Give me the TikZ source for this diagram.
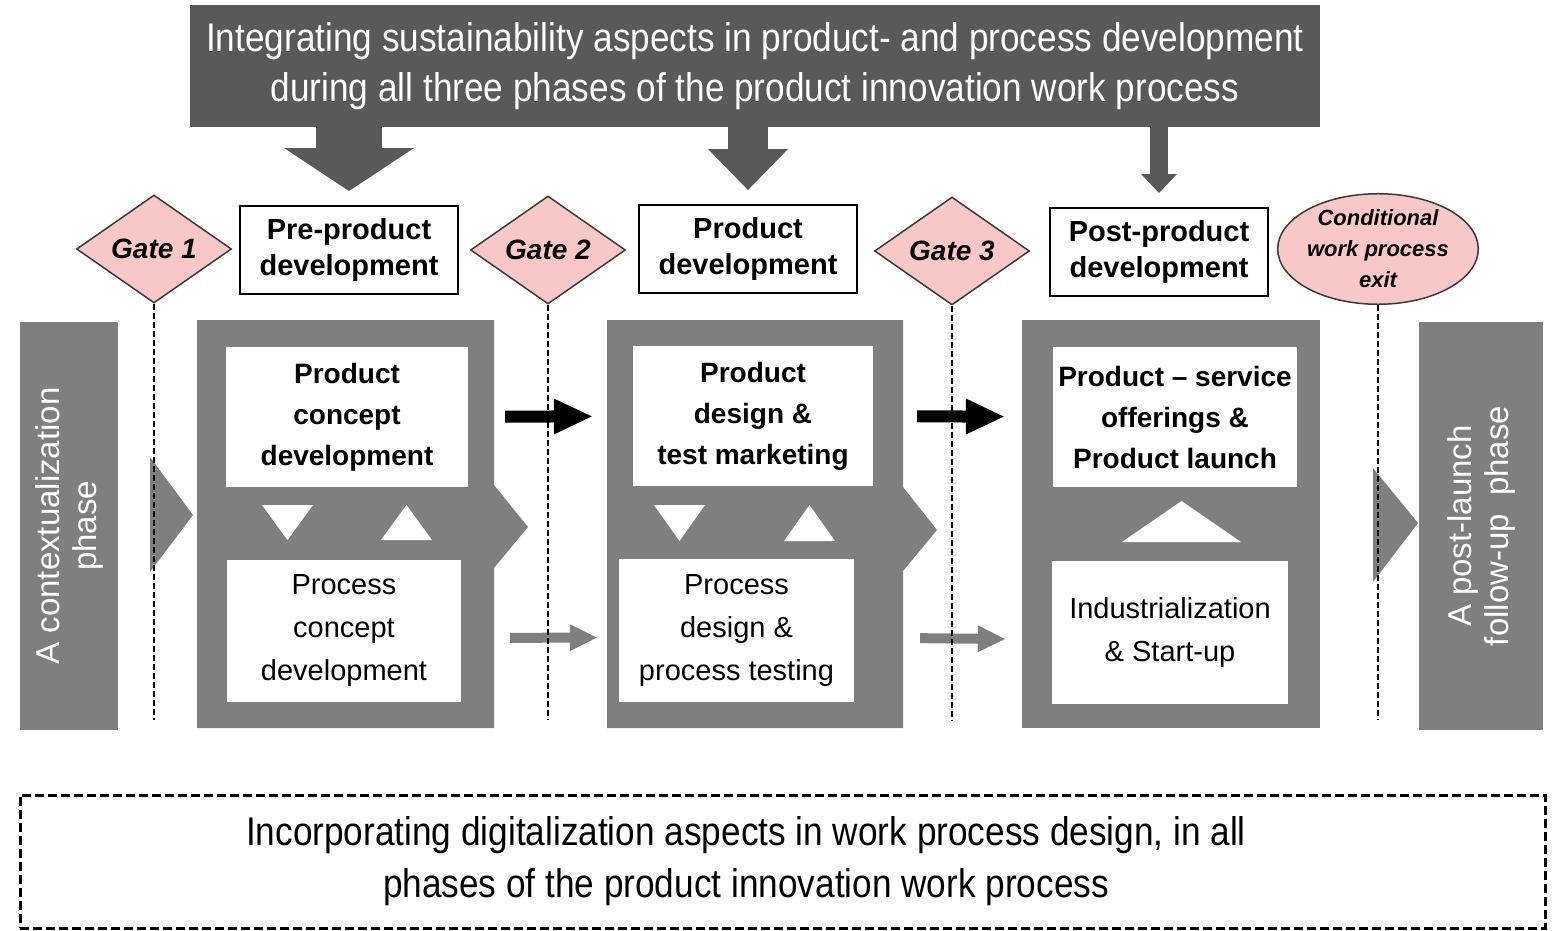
\documentclass[tikz,border=0pt]{standalone}
\usepackage{fontspec}
\setmainfont{Liberation Sans}
\newfontfamily\narrowfont[FakeStretch=0.88]{Liberation Sans}
\usetikzlibrary{positioning, shapes.geometric, arrows.meta}

\definecolor{blockgray}{HTML}{7F7F7F}
\definecolor{bannergray}{HTML}{595959}
\definecolor{gatepink}{HTML}{F8C8C8}
\definecolor{gateedge}{HTML}{3A3A3A}

\newcommand{\BLOCKTOP}{320}
\newcommand{\BLOCKBOT}{728}
\newcommand{\LINEEND}{720}

\begin{document}
\begin{tikzpicture}[x=1pt, y=-1pt,
        banner/.style={fill=bannergray, text=white, align=center, inner sep=0pt,
                minimum width=1130pt, minimum height=122pt, font=\narrowfont\fontsize{40}{50}\selectfont},
        gate/.style={diamond, draw=gateedge, line width=1.5pt, fill=gatepink, inner sep=0pt,
                minimum width=155pt, minimum height=108pt, font=\bfseries\itshape\fontsize{28}{32}\selectfont},
        exitnode/.style={ellipse, draw=gateedge, line width=1.5pt, fill=gatepink, align=center, inner sep=0pt,
                minimum width=190pt, minimum height=107pt, font=\bfseries\itshape\fontsize{22}{31}\selectfont},
        phasebox/.style={draw, line width=2pt, fill=white, align=center, inner sep=0pt,
                minimum width=218pt, minimum height=88pt, font=\bfseries\fontsize{29}{36}\selectfont},
        workbox/.style={fill=white, align=center, inner sep=0pt, font=\bfseries\fontsize{28}{41}\selectfont},
        procbox/.style={fill=white, align=center, inner sep=0pt, font=\fontsize{29}{43}\selectfont},
        sidebar/.style={fill=blockgray, text=white, rotate=90, align=center, inner sep=0pt,
                minimum width=408pt, font=\fontsize{33}{37}\selectfont},
        gateline/.style={dash pattern=on 6pt off 3pt, line width=2.6pt},
        flowarrow/.style={line width=12pt, -{Triangle[length=38pt, width=36pt, line width=0pt]}},
        procarrow/.style={blockgray, line width=10pt, -{Triangle[length=27pt, width=27pt, line width=0pt]}},
        digibox/.style={draw, line width=3pt, dash pattern=on 9pt off 4pt, minimum width=1525pt, minimum height=133pt},
        digitext/.style={align=center, font=\narrowfont\fontsize{40}{52}\selectfont}
    ]
    \useasboundingbox (0,0) rectangle (1552,931);

    % 顶部横幅
    \node[banner] (sust) at (755,66) {Integrating sustainability aspects in product- and process development\\during all three phases of the product innovation work process};

    % phase titles
    \node[phasebox] (pre) at (349,250) {Pre-product\\development};
    \node[phasebox] (prod) at (748,249) {Product\\development};
    \node[phasebox] (post) at (1159,252) {Post-product\\development};

    % 向下的箭头
    \foreach \ph/\sw/\hw/\hl in {pre/66/130/43, prod/40/80/41, post/18/36/19} {
            \draw[bannergray, line width=\sw pt, -{Triangle[length=\hl pt, width=\hw pt, line width=0pt]}]
            (sust.south -| \ph.north) -- ([yshift=14pt]\ph.north);
        }

    % gray blocks
    \fill[blockgray] (197,\BLOCKTOP) -- (494,\BLOCKTOP) -- (494,485) -- (528,527) -- (494,568) -- (494,\BLOCKBOT) -- (197,\BLOCKBOT) -- cycle;
    \fill[blockgray] (607,\BLOCKTOP) -- (903,\BLOCKTOP) -- (903,487) -- (937,530) -- (903,571) -- (903,\BLOCKBOT) -- (607,\BLOCKBOT) -- cycle;
    \fill[blockgray] (1022,\BLOCKTOP) rectangle (1320,\BLOCKBOT);
    \fill[blockgray] (150,457) -- (193,515) -- (150,572) -- cycle;
    \fill[blockgray] (1373,468) -- (1418,523) -- (1373,582) -- cycle;

    % side phases
    \node[sidebar, minimum height=98pt] (ctx) at (69,526) {A contextualization\\phase};
    \node[sidebar, minimum height=124pt] (follow) at (1481,526) {A post-launch\\follow-up\ \ phase};

    % 白色内框
    \node[workbox, minimum width=242pt, minimum height=140pt] (pcd) at (347,417) {Product\\concept\\development};
    \node[procbox, minimum width=234pt, minimum height=142pt] (prcd) at (344,631) {Process\\concept\\development};
    \node[workbox, minimum width=240pt, minimum height=140pt] (pdtm) at (753,416) {Product\\design \&\\test marketing};
    \node[procbox, minimum width=235pt, minimum height=143pt] (prdt) at (736.5,630.5) {Process\\design \&\\process testing};
    \node[workbox, minimum width=244pt, minimum height=140pt] (psop) at (1175,417) {Product – service\\offerings \&\\Product launch};
    \node[procbox, minimum width=236pt, minimum height=143pt] (isu) at (1170,632.5) {Industrialization\\\& Start-up};

    % triangles between the boxes
    \foreach \xa/\xb/\ya/\yb in {262/313/505/540, 381/432/540/505, 654/705/505/541, 784/835/541/505, 1122/1241/542/501} {
            \fill[white] (\xa,\ya) -- (\xb,\ya) -- ({(\xa+\xb)/2},\yb) -- cycle;
        }

    % flow arrows
    \draw[flowarrow, shorten <=37pt, shorten >=41pt] (pcd) -- (pdtm);
    \draw[flowarrow, shorten <=44pt, shorten >=49pt] (pdtm) -- (psop);
    \draw[procarrow, shorten <=49pt, shorten >=22pt] ([yshift=-7pt]prcd.east) -- ([yshift=-7pt]prdt.west);
    \draw[procarrow, shorten <=66pt, shorten >=47pt] ([yshift=-7pt]prdt.east) -- ([yshift=-7pt]isu.west);

    % gates
    \foreach \name/\x/\y/\lbl in {g1/154/249/Gate 1, g2/548/250/Gate 2, g3/952/251/Gate 3} {
            \node[gate] (\name) at (\x,\y) {\lbl};
        }
    \node[exitnode] (exit) at (1378,249) {Conditional\\work process\\exit};

    % 虚线
    \coordinate (base) at (0,\LINEEND);
    \foreach \name in {g1, g2, g3, exit} {
            \draw[gateline] (\name.south) -- (\name.south |- base);
        }

    % bottom box
    \node[digibox] (digi) at (782.5,861.5) {};
    \node[digitext] (digitxt) at (746,861.5) {Incorporating digitalization aspects in work process design, in all\\phases of the product innovation work process};
\end{tikzpicture}
\end{document}
